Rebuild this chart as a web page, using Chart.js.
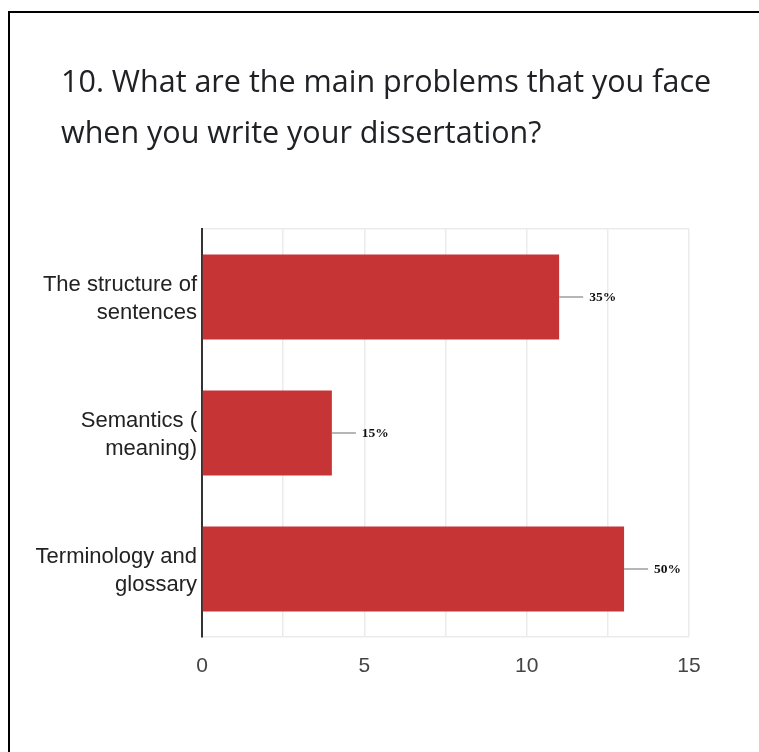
<!DOCTYPE html>
<html>
<head>
<meta charset="utf-8">
<script src="https://cdn.jsdelivr.net/npm/chart.js@4.4.0/dist/chart.umd.min.js"></script>
<style>
  html, body { margin: 0; padding: 0; background: #fff; }
  #frame {
    position: absolute; left: 8px; top: 11px; right: 0; bottom: 0;
    border-top: 2px solid #000; border-left: 2px solid #000;
  }
  #wrap { position: absolute; left: 0; top: 0; width: 759px; height: 752px; }
</style>
</head>
<body>
<div id="frame"></div>
<div id="wrap"><canvas id="chart"></canvas></div>
<script>
const titleLines = ['10. What are the main problems that you face', 'when you write your dissertation?'];
const categories = [['The structure of', 'sentences'], ['Semantics (', 'meaning)'], ['Terminology and', 'glossary']];
const counts = [11, 4, 13];
const shares = ['35%', '15%', '50%'];
const xTicks = [0, 5, 10, 15];

// question text, left-aligned with the page rather than the chart box
const questionTitle = {
  id: 'questionTitle',
  afterDraw(chart) {
    const ctx = chart.ctx;
    ctx.save();
    ctx.fillStyle = '#202124';
    ctx.font = '30.5px "Open Sans"';
    ctx.textAlign = 'left';
    ctx.textBaseline = 'alphabetic';
    titleLines.forEach((line, i) => ctx.fillText(line, 61, 92 + i * 51));
    ctx.restore();
  }
};

// little leader line + percentage text next to each bar
const shareLabels = {
  id: 'shareLabels',
  afterDatasetsDraw(chart) {
    const ctx = chart.ctx;
    const meta = chart.getDatasetMeta(0);
    ctx.save();
    meta.data.forEach((bar, i) => {
      ctx.strokeStyle = '#9e9e9e';
      ctx.lineWidth = 1.5;
      ctx.beginPath();
      ctx.moveTo(bar.x, bar.y);
      ctx.lineTo(bar.x + 24, bar.y);
      ctx.stroke();
      ctx.fillStyle = '#111';
      ctx.font = 'bold 13.5px "Liberation Serif"';
      ctx.textAlign = 'left';
      ctx.textBaseline = 'middle';
      ctx.fillText(shares[i], bar.x + 30, bar.y + 1);
    });
    ctx.restore();
  }
};

new Chart(document.getElementById('chart'), {
  type: 'bar',
  data: {
    labels: categories,
    datasets: [{
      data: counts,
      backgroundColor: '#c73436',
      barPercentage: 0.625,
      categoryPercentage: 1
    }]
  },
  options: {
    indexAxis: 'y',
    responsive: true,
    maintainAspectRatio: false,
    animation: false,
    layout: { padding: { left: 20, right: 70, top: 229, bottom: 66 } },
    plugins: {
      legend: { display: false },
      tooltip: { enabled: false },
      title: { display: false }
    },
    scales: {
      x: {
        min: 0,
        max: 15,
        afterBuildTicks(scale) {
          scale.ticks = [0, 2.5, 5, 7.5, 10, 12.5, 15].map(v => ({ value: v }));
        },
        afterFit(scale) { scale.height = 49; },
        ticks: {
          autoSkip: false,
          padding: 17,
          color: '#444',
          font: { family: 'Liberation Sans', size: 21 },
          callback: v => (xTicks.includes(v) ? String(v) : '')
        },
        grid: { color: '#ebebeb', lineWidth: 1.5, drawTicks: false },
        border: { color: '#ebebeb', width: 1.5 }
      },
      y: {
        afterFit(scale) { scale.width = 182; },
        ticks: {
          padding: 5,
          labelOffset: 2,
          color: '#222',
          font: { family: 'Liberation Sans', size: 22, lineHeight: 28 / 22 }
        },
        grid: {
          offset: true,
          drawTicks: false,
          lineWidth: 1.5,
          color: c => (c.index === 0 || c.index === categories.length ? '#ebebeb' : 'rgba(0,0,0,0)')
        },
        border: { color: '#333', width: 2 }
      }
    }
  },
  plugins: [shareLabels, questionTitle]
});
</script>
</body>
</html>
